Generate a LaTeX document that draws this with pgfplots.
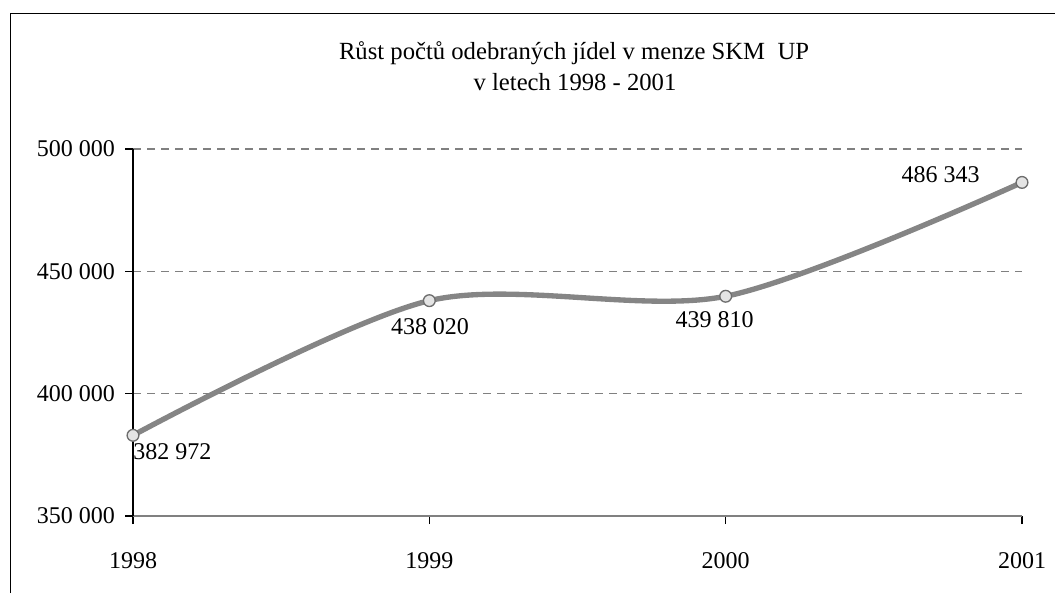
\documentclass[border=0pt]{standalone}
\usepackage{fontspec}
\setmainfont{Liberation Serif}
\usepackage{pgfplots}
\usepackage{pgfplotstable}
\pgfplotsset{compat=1.18}
\definecolor{linegray}{HTML}{858585}
\definecolor{markfill}{HTML}{E4E4E4}
\definecolor{markdraw}{HTML}{6E6E6E}
\definecolor{gridgray}{HTML}{808080}

\pgfplotstableread[col sep=comma]{
x,y,lbl,dx,dy
1998,382972,382 972,29.5,-12.4
1999,438020,438 020,0.5,-19.4
2000,439810,439 810,-8.3,-17.6
2001,486343,486 343,-61,6.2
}\datatable

\begin{document}
\begin{tikzpicture}
\path[use as bounding box] (0,0) rectangle (791.25pt,444.75pt);
\draw[line width=1.1pt, black] (7.9pt,0pt) -- (7.9pt,434.6pt) -- (791.25pt,434.6pt);
\node[anchor=base, font=\fontsize{18.5}{22}\selectfont] at (430.5pt,400.3pt) {Růst počtů odebraných jídel v menze SKM~~UP};
\node[anchor=base, font=\fontsize{18.5}{22}\selectfont] at (431.25pt,376.7pt) {v letech 1998 - 2001};
\begin{axis}[
  at={(99.75pt,57.75pt)}, anchor=south west,
  scale only axis, width=666.75pt, height=275.25pt,
  xmin=1998, xmax=2001, ymin=350000, ymax=500000,
  scaled y ticks=false,
  axis lines*=left,
  axis line style={-},
  x axis line style={draw=gridgray, line width=1.1pt},
  y axis line style={draw=black, line width=0.8pt},
  xtick={1998,1999,2000,2001},
  xticklabels={1998,1999,2000,2001},
  ytick={350000,400000,450000,500000},
  yticklabels={350 000,400 000,450 000,500 000},
  tick align=outside,
  major tick length=6pt,
  tick style={black, line width=0.8pt},
  ymajorgrids,
  grid style={draw=gridgray, line width=0.8pt, dash pattern=on 6pt off 4.5pt},
  tick label style={font=\fontsize{18}{20}\selectfont, text=black},
  xticklabel style={anchor=north, text height=12.5pt, text depth=0pt, inner sep=0pt, yshift=-21pt},
  yticklabel style={xshift=-4pt},
  clip=false,
]
\addplot[smooth, tension=0.5, line width=4pt, color=linegray,
  mark=*, mark size=4.4pt,
  mark options={fill=markfill, draw=markdraw, line width=1pt},
  point meta=explicit symbolic,
  visualization depends on={\thisrow{dx} \as \dx},
  visualization depends on={\thisrow{dy} \as \dy},
  nodes near coords,
  nodes near coords style={anchor=center, inner sep=0pt, text=black,
     font=\fontsize{18}{20}\selectfont, xshift=\dx pt, yshift=\dy pt},
] table[x=x, y=y, meta=lbl] {\datatable};
\end{axis}
\end{tikzpicture}
\end{document}
